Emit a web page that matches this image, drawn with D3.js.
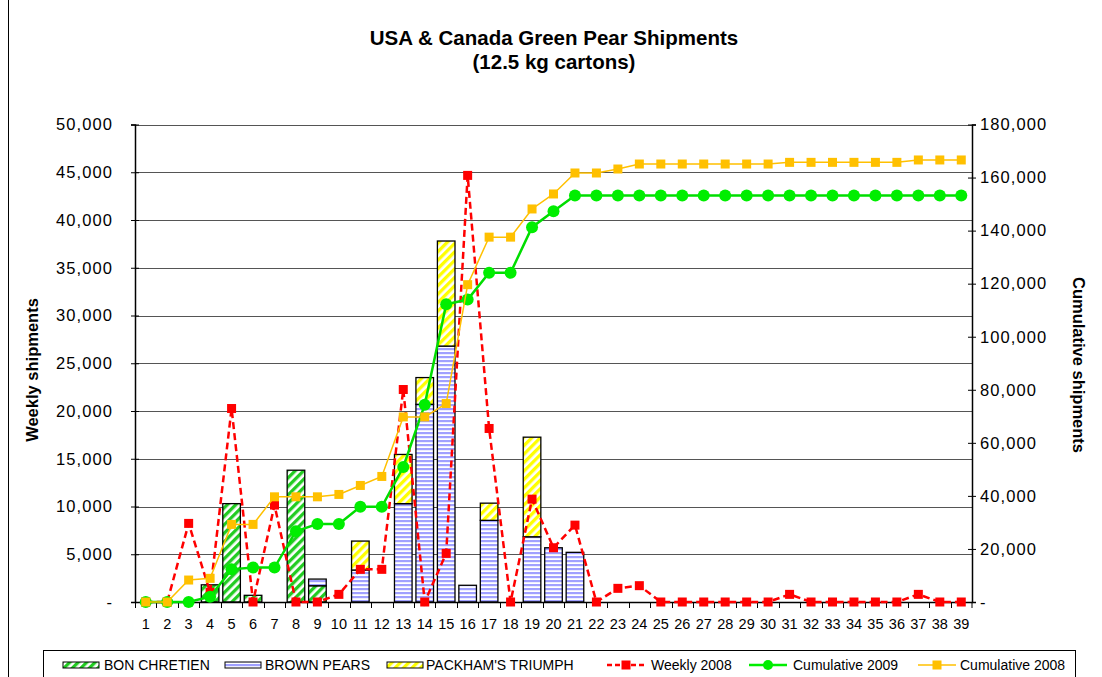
<!DOCTYPE html>
<html><head><meta charset="utf-8">
<script src="https://cdn.jsdelivr.net/npm/d3@7"></script>
<style>body{margin:0;background:#fff}svg{display:block;font-family:"Liberation Sans",Arial,sans-serif}</style>
</head><body><svg id="c" width="1102" height="677"></svg>
<script>
const weeks = ["1","2","3","4","5","6","7","8","9","10","11","12","13","14","15","16","17","18","19","20","21","22","23","24","25","26","27","28","29","30","31","32","33","34","35","36","37","38","39"];
const bonChretien = [0,0,0,1800,10300,700,0,13800,1700,0,0,0,0,0,0,0,0,0,0,0,0,0,0,0,0,0,0,0,0,0,0,0,0,0,0,0,0,0,0];
const brownPears  = [0,0,0,0,0,0,0,0,700,0,3350,0,10300,20700,26800,1750,8550,0,6830,5680,5200,0,0,0,0,0,0,0,0,0,0,0,0,0,0,0,0,0,0];
const packham     = [0,0,0,0,0,0,0,0,0,0,3030,0,5150,2800,11000,0,1800,0,10430,0,0,0,0,0,0,0,0,0,0,0,0,0,0,0,0,0,0,0,0];
const weekly2008  = [0,0,8230,1010,20260,0,10150,0,0,800,3420,3420,22250,0,5090,44670,18170,0,10770,5680,8050,0,1430,1710,0,0,0,0,0,0,800,0,0,0,0,0,800,0,0];
const cum2009     = [0,0,0,2000,12300,13000,13000,26700,29400,29400,35900,35900,50900,74400,112200,114000,124100,124100,141300,147300,153200,153200,153200,153200,153200,153200,153200,153200,153200,153200,153200,153200,153200,153200,153200,153200,153200,153200,153200];
const cum2008     = [0,0,8280,8920,29250,29250,39650,39650,39650,40550,43940,47330,69770,69770,74810,119620,137540,137540,148160,153810,161720,161720,163220,165100,165100,165100,165100,165100,165100,165100,165730,165730,165730,165730,165730,165730,166630,166630,166630];
const leftTicks  = [0,5000,10000,15000,20000,25000,30000,35000,40000,45000,50000];
const rightTicks = [0,20000,40000,60000,80000,100000,120000,140000,160000,180000];
const titleLines = ["USA & Canada Green Pear Shipments","(12.5 kg cartons)"];
const leftTitle = "Weekly shipments", rightTitle = "Cumulative shipments";
const barSeries = [
  {name:"BON CHRETIEN", values:bonChretien, fill:"url(#pGreen)"},
  {name:"BROWN PEARS", values:brownPears, fill:"url(#pBlue)"},
  {name:"PACKHAM'S TRIUMPH", values:packham, fill:"url(#pYellow)"}
];

const svg = d3.select("#c");
const X0=135, X1=972, Y0=602, Y1=124.5;
const x = d3.scaleBand().domain(weeks).range([X0,X1]).paddingInner(0.18).paddingOuter(0.09);
const yL = d3.scaleLinear().domain([0,50000]).range([Y0,Y1]);
const yR = d3.scaleLinear().domain([0,180000]).range([Y0,Y1]);
const fmt = d => d===0 ? "-" : d3.format(",")(d);

// patterns
const defs = svg.append("defs");
function diag(id,color){
  const p = defs.append("pattern").attr("id",id).attr("patternUnits","userSpaceOnUse")
    .attr("width",6).attr("height",6).attr("patternTransform","rotate(45)");
  p.append("rect").attr("width",6).attr("height",6).attr("fill","#fff");
  p.append("rect").attr("width",3.3).attr("height",6).attr("fill",color);
}
diag("pGreen","#22cc22");
diag("pYellow","#ffff00");
const pb = defs.append("pattern").attr("id","pBlue").attr("patternUnits","userSpaceOnUse").attr("width",4).attr("height",4);
pb.append("rect").attr("width",4).attr("height",4).attr("fill","#fff");
pb.append("rect").attr("width",4).attr("height",2.2).attr("fill","#a0a0ff");

// outer border
svg.append("line").attr("x1",8.5).attr("x2",8.5).attr("y1",0).attr("y2",677).attr("stroke","#000");

// title
svg.append("g").selectAll("text").data(titleLines).join("text")
  .attr("x",554).attr("y",(d,i)=>45+i*24).attr("text-anchor","middle")
  .attr("font-size",20.5).attr("font-weight","bold").text(d=>d);

// grid
svg.append("g").selectAll("line").data(leftTicks.filter(d=>d>0)).join("line")
  .attr("x1",X0).attr("x2",X1).attr("y1",d=>Math.round(yL(d))+0.5).attr("y2",d=>Math.round(yL(d))+0.5)
  .attr("stroke","#555").attr("stroke-width",1.2);

// stacked bars
const stackData = weeks.map((w,i)=>({week:w, b0:bonChretien[i], b1:brownPears[i], b2:packham[i]}));
const stack = d3.stack().keys(["b0","b1","b2"])(stackData);
svg.append("g").selectAll("g").data(stack).join("g")
  .attr("fill",(d,i)=>barSeries[i].fill)
  .selectAll("rect").data(d=>d.filter(s=>s[1]-s[0]>0)).join("rect")
  .attr("x",d=>x(d.data.week)).attr("width",x.bandwidth())
  .attr("y",d=>yL(d[1])).attr("height",d=>yL(d[0])-yL(d[1]))
  .attr("stroke","#000").attr("stroke-width",1.3);

// axes
const gl = svg.append("g").attr("transform",`translate(${X0},0)`)
  .call(d3.axisLeft(yL).tickValues(leftTicks).tickFormat(fmt).tickSize(4).tickPadding(19));
const gr = svg.append("g").attr("transform",`translate(${X1},0)`)
  .call(d3.axisRight(yR).tickValues(rightTicks).tickFormat(fmt).tickSize(4).tickPadding(6));
[gl,gr].forEach(g=>{
  g.select(".domain").attr("stroke","#000").attr("stroke-width",1.5);
  g.selectAll(".tick line").attr("stroke","#000").attr("x1",-4).attr("x2",4);
  g.selectAll(".tick text").attr("font-size",16.5).attr("fill","#000").attr("font-family","Liberation Sans, Arial, sans-serif").attr("letter-spacing","1.1px");
});
gl.selectAll(".tick text").attr("x",-22);
gr.selectAll(".tick text").attr("x",8);

const gb = svg.append("g").attr("transform",`translate(0,${Y0})`)
  .call(d3.axisBottom(x).tickSize(0).tickPadding(17));
gb.select(".domain").attr("stroke","#000").attr("stroke-width",1.5);
gb.selectAll(".tick text").attr("font-size",14.5).attr("fill","#000").attr("font-family","Liberation Sans, Arial, sans-serif");
const halfGap = x.step()*x.paddingInner()/2;
svg.append("g").selectAll("line").data(weeks.concat(["end"])).join("line")
  .attr("x1",(d,i)=> i<weeks.length ? Math.round(x(d)-halfGap)+0.5 : X1)
  .attr("x2",(d,i)=> i<weeks.length ? Math.round(x(d)-halfGap)+0.5 : X1)
  .attr("y1",Y0).attr("y2",Y0+6).attr("stroke","#000");

// axis titles
svg.append("text").attr("transform","translate(38,370) rotate(-90)").attr("text-anchor","middle")
  .attr("font-size",16.5).attr("font-weight","bold").text(leftTitle);
svg.append("text").attr("transform","translate(1073,365) rotate(90)").attr("text-anchor","middle")
  .attr("font-size",16.5).attr("font-weight","bold").text(rightTitle);

const cx = w => x(w)+x.bandwidth()/2;
// weekly 2008
svg.append("path").datum(weekly2008).attr("fill","none").attr("stroke","#ff0000").attr("stroke-width",2.5)
  .attr("stroke-dasharray","7,4")
  .attr("d",d3.line().x((d,i)=>cx(weeks[i])).y(d=>yL(d)));
svg.append("g").selectAll("rect").data(weekly2008).join("rect")
  .attr("x",(d,i)=>cx(weeks[i])-4.5).attr("y",d=>yL(d)-4.5).attr("width",9).attr("height",9).attr("fill","#ff0000");
// cumulative 2009
svg.append("path").datum(cum2009).attr("fill","none").attr("stroke","#00dd00").attr("stroke-width",2.5)
  .attr("d",d3.line().x((d,i)=>cx(weeks[i])).y(d=>yR(d)));
svg.append("g").selectAll("circle").data(cum2009).join("circle")
  .attr("cx",(d,i)=>cx(weeks[i])).attr("cy",d=>yR(d)).attr("r",6).attr("fill","#00ee00");
// cumulative 2008
svg.append("path").datum(cum2008).attr("fill","none").attr("stroke","#ffc000").attr("stroke-width",1.5)
  .attr("d",d3.line().x((d,i)=>cx(weeks[i])).y(d=>yR(d)));
svg.append("g").selectAll("rect").data(cum2008).join("rect")
  .attr("x",(d,i)=>cx(weeks[i])-4.5).attr("y",d=>yR(d)-4.5).attr("width",9).attr("height",9).attr("fill","#ffc000");

// legend
const lg = svg.append("g");
lg.append("rect").attr("x",43.5).attr("y",650.5).attr("width",1032).attr("height",40).attr("fill","#fff").attr("stroke","#000");
const ly = 665;
const barLeg = [{x:63,tx:104},{x:225,tx:265},{x:387,tx:426}];
barSeries.forEach((s,i)=>{
  lg.append("rect").attr("x",barLeg[i].x).attr("y",ly-3).attr("width",36).attr("height",6)
    .attr("fill",s.fill).attr("stroke","#000").attr("stroke-width",1);
  lg.append("text").attr("x",barLeg[i].tx).attr("y",ly+5).attr("font-size",14).text(s.name);
});
const lineLeg = [
  {name:"Weekly 2008", x:607, tx:651, color:"#ff0000", dash:"5,3", w:2.5, m:"sq"},
  {name:"Cumulative 2009", x:749, tx:793, color:"#00ee00", dash:null, w:2.5, m:"c"},
  {name:"Cumulative 2008", x:918, tx:960, color:"#ffc000", dash:null, w:1.5, m:"sq"}
];
lineLeg.forEach(l=>{
  lg.append("line").attr("x1",l.x).attr("x2",l.x+38).attr("y1",ly).attr("y2",ly)
    .attr("stroke",l.color).attr("stroke-width",l.w).attr("stroke-dasharray",l.dash);
  if(l.m==="sq") lg.append("rect").attr("x",l.x+19-4.5).attr("y",ly-4.5).attr("width",9).attr("height",9).attr("fill",l.color);
  else lg.append("circle").attr("cx",l.x+19).attr("cy",ly).attr("r",5).attr("fill",l.color);
  lg.append("text").attr("x",l.tx).attr("y",ly+5).attr("font-size",14).text(l.name);
});
</script></body></html>
